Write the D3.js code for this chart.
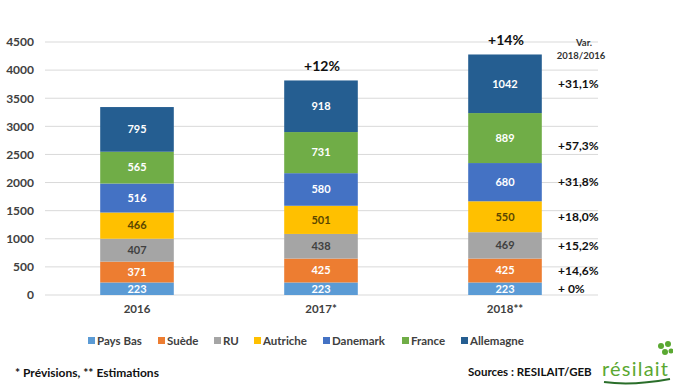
<!DOCTYPE html>
<html>
<head>
<meta charset="utf-8">
<script src="https://cdn.jsdelivr.net/npm/d3@7"></script>
<style>
  body { margin: 0; background: #fff; }
  svg { font-family: Lato, "Open Sans", sans-serif; font-weight: bold; }
</style>
</head>
<body>
<div id="chart"></div>
<script>
// data
const years = ['2016', '2017*', '2018**'];
const countries = ['Pays Bas', 'Suède', 'RU', 'Autriche', 'Danemark', 'France', 'Allemagne'];
const paysBas = [223, 223, 223];
const suede = [371, 425, 425];
const ru = [407, 438, 469];
const autriche = [466, 501, 550];
const danemark = [516, 580, 680];
const france = [565, 731, 889];
const allemagne = [795, 918, 1042];
const yearGrowth = ['', '+12%', '+14%'];
const variation = ['+ 0%', '+14,6%', '+15,2%', '+18,0%', '+31,8%', '+57,3%', '+31,1%'];
const yTicks = [0, 500, 1000, 1500, 2000, 2500, 3000, 3500, 4000, 4500];

const colors = ['#5b9bd5', '#ed7d31', '#a5a5a5', '#ffc000', '#4472c4', '#70ad47', '#255e91'];
const labelColors = ['#fff', '#fff', '#404040', '#5a4600', '#fff', '#fff', '#fff'];

const width = 673, height = 388;
const series = [paysBas, suede, ru, autriche, danemark, france, allemagne];

const table = years.map((yr, i) => {
  const row = { year: yr };
  countries.forEach((c, j) => row[c] = series[j][i]);
  return row;
});

const svg = d3.select('#chart').append('svg')
  .attr('width', width)
  .attr('height', height);

const x = d3.scaleBand()
  .domain(years)
  .range([45, 597])
  .paddingInner(0.6)
  .paddingOuter(0.3);

const y = d3.scaleLinear()
  .domain([0, 4500])
  .range([295, 42]);

// gridlines
svg.append('g')
  .selectAll('line')
  .data(yTicks)
  .enter()
  .append('line')
  .attr('x1', 45)
  .attr('x2', 598)
  .attr('y1', d => y(d))
  .attr('y2', d => y(d))
  .attr('stroke', '#d9d9d9')
  .attr('stroke-width', 1);

// y axis labels
const yAxis = svg.append('g')
  .attr('transform', 'translate(34,0)')
  .call(d3.axisLeft(y).tickValues(yTicks).tickFormat(d3.format('d')).tickSize(0).tickPadding(0));
yAxis.select('.domain').remove();
yAxis.selectAll('text')
  .attr('fill', '#404040')
  .style('font-size', '12px')
  .style('font-weight', 'bold')
  .style('font-family', 'Lato, sans-serif');

// stacked bars
const stacked = d3.stack().keys(countries)(table);

const layers = svg.selectAll('.layer')
  .data(stacked)
  .enter()
  .append('g')
  .attr('class', 'layer')
  .attr('fill', (d, i) => colors[i]);

layers.selectAll('rect')
  .data(d => d)
  .enter()
  .append('rect')
  .attr('x', d => x(d.data.year))
  .attr('y', d => y(d[1]))
  .attr('width', x.bandwidth())
  .attr('height', d => y(d[0]) - y(d[1]));

layers.each(function(layer, i) {
  d3.select(this).selectAll('text')
    .data(layer)
    .enter()
    .append('text')
    .attr('x', d => x(d.data.year) + x.bandwidth() / 2)
    .attr('y', d => y((d[0] + d[1]) / 2))
    .attr('dy', '0.35em')
    .attr('text-anchor', 'middle')
    .attr('fill', labelColors[i])
    .style('font-size', '11px')
    .text(d => d[1] - d[0]);
});

// growth above bars
const totals = table.map(r => d3.sum(countries, c => r[c]));
svg.selectAll('.growth')
  .data(years)
  .enter()
  .append('text')
  .attr('class', 'growth')
  .attr('x', d => x(d) + x.bandwidth() / 2 + 1)
  .attr('y', (d, i) => y(totals[i]) - 9)
  .attr('text-anchor', 'middle')
  .attr('fill', '#111')
  .style('font-size', '14px')
  .text((d, i) => yearGrowth[i]);

// variation 2018/2016 column
const last = stacked.map(s => s[2]);
svg.selectAll('.var')
  .data(variation)
  .enter()
  .append('text')
  .attr('class', 'var')
  .attr('x', 558)
  .attr('y', (d, i) => y((last[i][0] + last[i][1]) / 2) + (i === 5 ? 8 : 0))
  .attr('dy', '0.35em')
  .attr('fill', '#111')
  .style('font-size', '12px')
  .text(d => d);

svg.append('text')
  .attr('x', 584).attr('y', 46)
  .attr('text-anchor', 'middle')
  .attr('fill', '#333')
  .style('font-size', '9.5px')
  .text('Var.');
svg.append('text')
  .attr('x', 581).attr('y', 59)
  .attr('text-anchor', 'middle')
  .attr('fill', '#333')
  .style('font-size', '9.5px')
  .text('2018/2016');

// x axis labels
const xAxis = svg.append('g')
  .attr('transform', 'translate(0,305)')
  .call(d3.axisBottom(x).tickSize(0).tickPadding(0));
xAxis.select('.domain').remove();
xAxis.selectAll('text')
  .attr('fill', '#404040')
  .style('font-size', '11.5px')
  .style('font-weight', 'bold')
  .style('font-family', 'Lato, sans-serif');

// legend
const legendX = [88, 158, 214, 254, 323, 402, 461];
const legend = svg.append('g').attr('transform', 'translate(0,341)');
legend.selectAll('rect')
  .data(countries)
  .enter()
  .append('rect')
  .attr('x', (d, i) => legendX[i])
  .attr('y', -4)
  .attr('width', 7)
  .attr('height', 7)
  .attr('fill', (d, i) => colors[i]);
legend.selectAll('text')
  .data(countries)
  .enter()
  .append('text')
  .attr('x', (d, i) => legendX[i] + 9)
  .attr('y', 0)
  .attr('dy', '0.35em')
  .attr('fill', '#404040')
  .style('font-size', '11.5px')
  .text(d => d);

// footnotes
svg.append('text')
  .attr('x', 15).attr('y', 377)
  .attr('fill', '#111')
  .style('font-size', '12px')
  .text('* Prévisions, ** Estimations');

svg.append('text')
  .attr('x', 468).attr('y', 376)
  .attr('fill', '#111')
  .style('font-size', '11.5px')
  .text('Sources : RESILAIT/GEB');

// logo
const logo = svg.append('g').attr('transform', 'translate(602,376)');
logo.append('text')
  .attr('x', 0).attr('y', 0)
  .attr('fill', '#5aa832')
  .attr('textLength', 66)
  .style('font-size', '20px')
  .style('font-weight', 'normal')
  .text('résilait');
logo.append('path')
  .attr('d', 'M2,6 Q30,10 68,3')
  .attr('stroke', '#2a6e2a')
  .attr('stroke-width', 2)
  .attr('fill', 'none');
[[59, -30, 3], [66, -32, 3], [63, -24, 3], [69, -25, 2.5]].forEach(c => {
  logo.append('circle').attr('cx', c[0]).attr('cy', c[1]).attr('r', c[2]).attr('fill', '#5aa832');
});
</script>
</body>
</html>
